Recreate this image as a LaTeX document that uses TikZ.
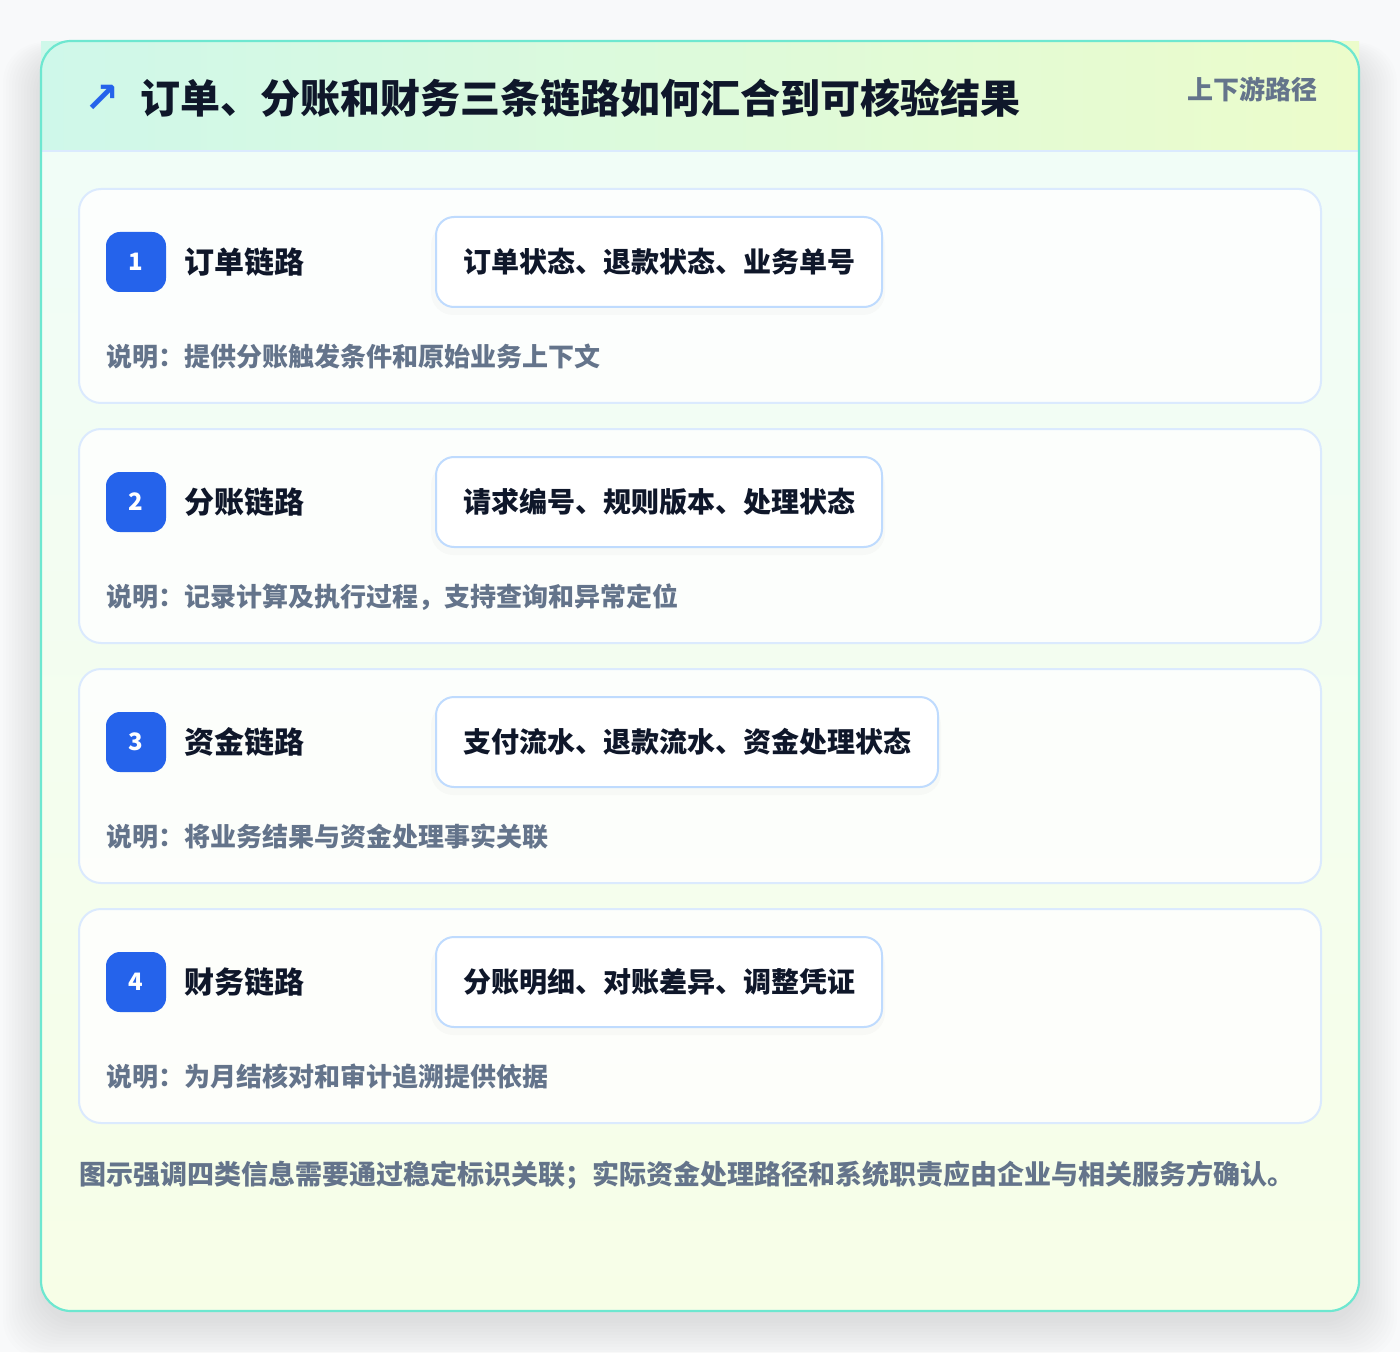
\documentclass[tikz,border=0pt]{standalone}
\usepackage{fontspec}
\setmainfont{Noto Sans CJK SC}
\newfontfamily\symfont{DejaVu Sans}
\usetikzlibrary{positioning}
\definecolor{pagebg}{HTML}{F8F9FA}
\definecolor{frameline}{HTML}{6EE7D0}
\definecolor{headleft}{HTML}{CFF8EA}
\definecolor{headright}{HTML}{ECFCCB}
\definecolor{bodytop}{HTML}{F0FDF9}
\definecolor{bodybot}{HTML}{F7FEE7}
\definecolor{cardline}{HTML}{DBEAFE}
\definecolor{chipline}{HTML}{BFDBFE}
\definecolor{badgeblue}{HTML}{2563EB}
\definecolor{ink}{HTML}{0F172A}
\definecolor{slate}{HTML}{64748B}
\newcommand{\fsz}[1]{\fontsize{#1}{1.2\dimexpr#1\relax}\selectfont\bfseries}
\begin{document}
\begin{tikzpicture}[x=0.5pt,y=-0.5pt,
	card/.style={draw=cardline,line width=1pt,fill=white,fill opacity=0.8,rounded corners=11pt},
	badge/.style={fill=badgeblue,rounded corners=7pt,minimum size=30pt,inner sep=0pt,text=white,font=\fsz{12pt}},
	lab/.style={inner sep=0pt,text=ink,font=\fsz{15pt}},
	chip/.style={draw=chipline,line width=1pt,fill=white,rounded corners=9pt,minimum height=45pt,inner xsep=13.5pt,text=ink,font=\fsz{14pt}},
	desc/.style={inner sep=0pt,text=slate,font=\fsz{13pt}},
	chipshadow/.style={fill=black,opacity=0.02,rounded corners=11pt}]
	\useasboundingbox (0,0) rectangle (1400,1352);
	\fill[pagebg] (0,0) rectangle (1400,1352);
	% soft shadow of the frame
	\foreach \s in {2,5,...,38}
		\fill[black,opacity=0.008,rounded corners=20pt] (41-\s,41+14-\s/3) rectangle (1359+\s,1311+10+\s);
	% frame and header
	\draw[rounded corners=15pt,top color=bodytop,bottom color=bodybot,draw=none] (41,41) rectangle (1359,1311);
	\shade[left color=headleft,right color=headright] (41,42) rectangle (1359,151);
	\draw[cardline,line width=1pt] (41,151) -- (1359,151);
	\draw[frameline,line width=1.1pt,rounded corners=15pt] (41,41) rectangle (1359,1311);

	\node[text=badgeblue,font=\symfont\bfseries\fontsize{21pt}{24pt}\selectfont,inner sep=0pt] (arr) at (102,99) {↗};
	\node[anchor=west,inner sep=0pt,text=ink,font=\fsz{20pt}] (ttl) at (140,98) {订单、分账和财务三条链路如何汇合到可核验结果};
	\node[anchor=east,inner sep=0pt,text=slate,font=\fsz{13pt}] (tag) at (1318,89) {上下游路径};

	% card 1
	\draw[card] (79,189) rectangle (1321,403);
	\fill[chipshadow] (431,223) rectangle (885,315);
	\node[badge] (b1) at (136,262) {1};
	\node[lab,right=9pt of b1] (l1) {订单链路};
	\node[chip,anchor=west] (c1) at (435,262) {订单状态、退款状态、业务单号};
	\node[desc,anchor=west] (d1) at (106,357) {说明：提供分账触发条件和原始业务上下文};

	% card 2
	\draw[card] (79,429) rectangle (1321,643);
	\fill[chipshadow] (431,463) rectangle (885,555);
	\node[badge] (b2) at (136,502) {2};
	\node[lab,right=9pt of b2] (l2) {分账链路};
	\node[chip,anchor=west] (c2) at (435,502) {请求编号、规则版本、处理状态};
	\node[desc,anchor=west] (d2) at (106,597) {说明：记录计算及执行过程，支持查询和异常定位};

	% card 3
	\draw[card] (79,669) rectangle (1321,883);
	\fill[chipshadow] (431,703) rectangle (941,795);
	\node[badge] (b3) at (136,742) {3};
	\node[lab,right=9pt of b3] (l3) {资金链路};
	\node[chip,anchor=west] (c3) at (435,742) {支付流水、退款流水、资金处理状态};
	\node[desc,anchor=west] (d3) at (106,837) {说明：将业务结果与资金处理事实关联};

	% card 4
	\draw[card] (79,909) rectangle (1321,1123);
	\fill[chipshadow] (431,943) rectangle (885,1035);
	\node[badge] (b4) at (136,982) {4};
	\node[lab,right=9pt of b4] (l4) {财务链路};
	\node[chip,anchor=west] (c4) at (435,982) {分账明细、对账差异、调整凭证};
	\node[desc,anchor=west] (d4) at (106,1077) {说明：为月结核对和审计追溯提供依据};

	\node[desc,anchor=west,font=\fsz{13.5pt}] (note) at (79,1175) {图示强调四类信息需要通过稳定标识关联；实际资金处理路径和系统职责应由企业与相关服务方确认。};
\end{tikzpicture}
\end{document}
